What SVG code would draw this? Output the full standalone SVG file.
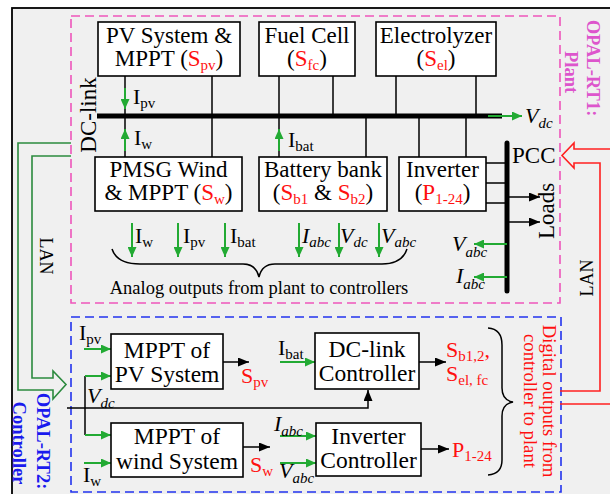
<svg xmlns="http://www.w3.org/2000/svg" width="610" height="494" viewBox="0 0 610 494" font-family="'Liberation Serif', serif">
<style>
text{font-family:"Liberation Serif","Times New Roman",serif;fill:#000}
.t{font-size:23px}
.c{font-size:23.5px}
.m{font-size:22px}
.s{font-size:15px}
.r{fill:#ff1010}
.i{font-style:italic}
.box{fill:#fff;stroke:#000;stroke-width:1.6}
.ln{stroke:#000;stroke-width:1.5;fill:none}
.ga{stroke:#22aa33;stroke-width:2;fill:none;marker-end:url(#gh)}
.ba{stroke:#000;stroke-width:1.5;fill:none;marker-end:url(#bh)}
.b{font-weight:bold;font-size:18.5px}
</style>
<defs>
<marker id="gh" markerUnits="userSpaceOnUse" markerWidth="10" markerHeight="9" refX="10" refY="4.5" orient="auto"><path d="M0,0 L10,4.5 L0,9 z" fill="#22aa33"/></marker>
<marker id="bh" markerUnits="userSpaceOnUse" markerWidth="11" markerHeight="9" refX="11" refY="4.5" orient="auto"><path d="M0,0 L11,4.5 L0,9 z" fill="#000"/></marker>
</defs>
<rect x="0" y="0" width="610" height="494" fill="#fff"/>
<rect x="12" y="8" width="610" height="500" fill="#f0f0f0" stroke="#000" stroke-width="1.8"/>
<g id="frames">
<rect x="71" y="16" width="489" height="287" fill="none" stroke="#ee55bb" stroke-width="1.6" stroke-dasharray="9,5"/>
<rect x="71" y="317" width="490" height="175" fill="none" stroke="#2233ee" stroke-width="1.6" stroke-dasharray="9,5"/>
</g>
<g id="connectors">
<line x1="97" y1="116" x2="502" y2="116" stroke="#000" stroke-width="5"/>
<line x1="488" y1="116" x2="522" y2="116" class="ga"/>
<line x1="125" y1="76" x2="125" y2="157" class="ln"/>
<line x1="212" y1="76" x2="212" y2="157" class="ln"/>
<line x1="279" y1="76" x2="279" y2="157" class="ln"/>
<line x1="333" y1="76" x2="333" y2="116" class="ln"/>
<line x1="366" y1="116" x2="366" y2="157" class="ln"/>
<line x1="396" y1="76" x2="396" y2="116" class="ln"/>
<line x1="476" y1="76" x2="476" y2="116" class="ln"/>
<line x1="419" y1="116" x2="419" y2="157" class="ln"/>
<line x1="466" y1="116" x2="466" y2="157" class="ln"/>
<line x1="125" y1="88" x2="125" y2="109" class="ga"/>
<line x1="125" y1="151" x2="125" y2="129" class="ga"/>
<line x1="279" y1="151" x2="279" y2="129" class="ga"/>
<line x1="507" y1="143" x2="507" y2="291" stroke="#000" stroke-width="5" stroke-linecap="round"/>
<line x1="486" y1="163" x2="507" y2="163" class="ln"/>
<line x1="486" y1="183" x2="507" y2="183" class="ln"/>
<line x1="486" y1="203" x2="507" y2="203" class="ln"/>
<line x1="507" y1="197" x2="540" y2="197" class="ba"/>
<line x1="507" y1="222" x2="540" y2="222" class="ba"/>
<line x1="507" y1="244" x2="474" y2="244" class="ga"/>
<line x1="507" y1="277" x2="474" y2="277" class="ga"/>
<line x1="132" y1="223" x2="132" y2="257" class="ga"/>
<line x1="178" y1="223" x2="178" y2="257" class="ga"/>
<line x1="225" y1="223" x2="225" y2="257" class="ga"/>
<line x1="299" y1="223" x2="299" y2="257" class="ga"/>
<line x1="339" y1="223" x2="339" y2="257" class="ga"/>
<line x1="379" y1="223" x2="379" y2="257" class="ga"/>
<path d="M112,249 Q117,264 140,264 L243,264 Q256,264 259,277 Q262,264 275,264 L382,264 Q402,264 407,249" class="ln"/>
<path d="M71,143 L18,143 L18,390 L53,390 L53,399 L66,384.5 L53,371 L53,378 L32,378 L32,156 L71,156" fill="none" stroke="#2b8a3e" stroke-width="1.6"/>
<path d="M612,149 L574,149 L574,143 L562,155.5 L574,168 L574,163 L600,163 L600,391 L560,391 M560,404 L612,404" fill="none" stroke="#ff2020" stroke-width="1.6"/>
<line x1="84" y1="349" x2="111" y2="349" class="ga"/>
<line x1="85" y1="376" x2="85" y2="435" class="ln"/>
<line x1="85" y1="376" x2="111" y2="376" class="ga"/>
<line x1="85" y1="435" x2="111" y2="435" class="ga"/>
<line x1="84" y1="463" x2="111" y2="463" class="ga"/>
<path d="M67,408 L368,408 L368,390" class="ba"/>
<line x1="223" y1="362" x2="249" y2="362" class="ba"/>
<line x1="243" y1="447" x2="270" y2="447" class="ba"/>
<line x1="280" y1="362" x2="315" y2="362" class="ga"/>
<line x1="280" y1="436" x2="316" y2="436" class="ga"/>
<line x1="280" y1="463" x2="316" y2="463" class="ga"/>
<line x1="419" y1="362" x2="446" y2="362" class="ba"/>
<line x1="421" y1="449" x2="449" y2="449" class="ba"/>
<path d="M488,328 Q502,329 502,345 L502,388 Q502,400 513,402 Q502,404 502,416 L502,460 Q502,474 488,475" class="ln"/>
</g>
<g id="pv">
<rect x="98" y="22" width="142" height="54" class="box"/>
<text x="169" y="43" text-anchor="middle" class="t">PV System &amp;</text>
<text x="169" y="66" text-anchor="middle" class="t">MPPT (<tspan class="r">S</tspan><tspan class="r s" dy="4">pv</tspan><tspan dy="-4">)</tspan></text>
</g>
<g id="fuelcell">
<rect x="259" y="22" width="96" height="54" class="box"/>
<text x="307" y="43" text-anchor="middle" class="t">Fuel Cell</text>
<text x="307" y="66" text-anchor="middle" class="t">(<tspan class="r">S</tspan><tspan class="r s" dy="4">fc</tspan><tspan dy="-4">)</tspan></text>
</g>
<g id="electrolyzer">
<rect x="376" y="22" width="120" height="54" class="box"/>
<text x="436" y="43" text-anchor="middle" class="t">Electrolyzer</text>
<text x="436" y="66" text-anchor="middle" class="t">(<tspan class="r">S</tspan><tspan class="r s" dy="4">el</tspan><tspan dy="-4">)</tspan></text>
</g>
<g id="pmsg">
<rect x="95" y="157" width="147" height="54" class="box"/>
<text x="168.5" y="177" text-anchor="middle" class="t">PMSG Wind</text>
<text x="168.5" y="200" text-anchor="middle" class="t">&amp; MPPT (<tspan class="r">S</tspan><tspan class="r s" dy="4">w</tspan><tspan dy="-4">)</tspan></text>
</g>
<g id="battery">
<rect x="259" y="157" width="128" height="54" class="box"/>
<text x="323" y="177" text-anchor="middle" class="t">Battery bank</text>
<text x="323" y="200" text-anchor="middle" class="t">(<tspan class="r">S</tspan><tspan class="r s" dy="4">b1</tspan><tspan dy="-4"> &amp; </tspan><tspan class="r">S</tspan><tspan class="r s" dy="4">b2</tspan><tspan dy="-4">)</tspan></text>
</g>
<g id="inverter">
<rect x="399" y="157" width="87" height="54" class="box"/>
<text x="442.5" y="177" text-anchor="middle" class="t">Inverter</text>
<text x="442.5" y="200" text-anchor="middle" class="t">(<tspan class="r">P</tspan><tspan class="r s" dy="4">1-24</tspan><tspan dy="-4">)</tspan></text>
</g>
<g id="mpptpv">
<rect x="111" y="334" width="112" height="55" class="box"/>
<text x="167" y="358" text-anchor="middle" class="c">MPPT of</text>
<text x="167" y="382" text-anchor="middle" class="c">PV System</text>
</g>
<g id="mpptwind">
<rect x="111" y="423" width="132" height="54" class="box"/>
<text x="177" y="444" text-anchor="middle" class="c">MPPT of</text>
<text x="177" y="469" text-anchor="middle" class="c">wind System</text>
</g>
<g id="dclinkctrl">
<rect x="315" y="333" width="104" height="56" class="box"/>
<text x="367" y="357" text-anchor="middle" class="c">DC-link</text>
<text x="367" y="381" text-anchor="middle" class="c">Controller</text>
</g>
<g id="invctrl">
<rect x="316" y="423" width="105" height="53" class="box"/>
<text x="368.5" y="444" text-anchor="middle" class="c">Inverter</text>
<text x="368.5" y="468" text-anchor="middle" class="c">Controller</text>
</g>
<g id="labels">
<text transform="translate(96,115) rotate(-90)" text-anchor="middle" class="t">DC-link</text>
<text x="133" y="104" class="m">I<tspan class="s" dy="4">pv</tspan></text>
<text x="134" y="145" class="m">I<tspan class="s" dy="4">w</tspan></text>
<text x="288" y="147" class="m">I<tspan class="s" dy="4">bat</tspan></text>
<text x="525" y="123" class="m i">V<tspan class="s" dy="5">dc</tspan></text>
<text x="512" y="163" class="t">PCC</text>
<text transform="translate(554,211) rotate(-90)" text-anchor="middle" class="t">Loads</text>
<text x="452" y="251" class="m i">V<tspan class="s" dy="6">abc</tspan></text>
<text x="456" y="283" class="m i">I<tspan class="s" dy="6">abc</tspan></text>
<text x="135" y="243" class="m">I<tspan class="s" dy="4">w</tspan></text>
<text x="183" y="243" class="m">I<tspan class="s" dy="4">pv</tspan></text>
<text x="230" y="243" class="m">I<tspan class="s" dy="4">bat</tspan></text>
<text x="302" y="243" class="m i">I<tspan class="s" dy="4">abc</tspan></text>
<text x="340" y="243" class="m i">V<tspan class="s" dy="4">dc</tspan></text>
<text x="381" y="243" class="m i">V<tspan class="s" dy="4">abc</tspan></text>
<text x="259" y="294" text-anchor="middle" style="font-size:18.5px">Analog outputs from plant to controllers</text>
<text transform="translate(40,256) rotate(90)" text-anchor="middle" style="font-size:18px">LAN</text>
<text transform="translate(593,278) rotate(-90)" text-anchor="middle" style="font-size:18px">LAN</text>
<text transform="translate(587,68) rotate(90)" text-anchor="middle" class="b" style="fill:#dd55cc">OPAL-RT1:</text>
<text transform="translate(565,72) rotate(90)" text-anchor="middle" class="b" style="fill:#dd55cc">Plant</text>
<text transform="translate(37,441) rotate(90)" text-anchor="middle" class="b" style="fill:#1a1aee">OPAL-RT2:</text>
<text transform="translate(13,443) rotate(90)" text-anchor="middle" class="b" style="fill:#1a1aee">Controller</text>
<text transform="translate(543,401) rotate(90)" text-anchor="middle" style="font-size:18.7px;fill:#ff1010">Digital outputs from</text>
<text transform="translate(524,401) rotate(90)" text-anchor="middle" style="font-size:18.7px;fill:#ff1010">controller to plant</text>
<text x="79" y="340" class="m">I<tspan class="s" dy="4">pv</tspan></text>
<text x="87" y="403" class="m i">V<tspan class="s" dy="5">dc</tspan></text>
<text x="83" y="482" class="m">I<tspan class="s" dy="4">w</tspan></text>
<text x="241" y="383" class="m r">S<tspan class="s" dy="4">pv</tspan></text>
<text x="250" y="472" class="m r">S<tspan class="s" dy="4">w</tspan></text>
<text x="278" y="355" class="m">I<tspan class="s" dy="4">bat</tspan></text>
<text x="274" y="431" class="m i">I<tspan class="s" dy="5">abc</tspan></text>
<text x="279" y="478" class="m i">V<tspan class="s" dy="5">abc</tspan></text>
<text x="446" y="357" class="m r">S<tspan class="s" dy="4">b1,2</tspan><tspan dy="-4">,</tspan></text>
<text x="446" y="381" class="m r">S<tspan class="s" dy="4">el, fc</tspan></text>
<text x="452" y="457" class="m r">P<tspan class="s" dy="4">1-24</tspan></text>
</g>
</svg>
